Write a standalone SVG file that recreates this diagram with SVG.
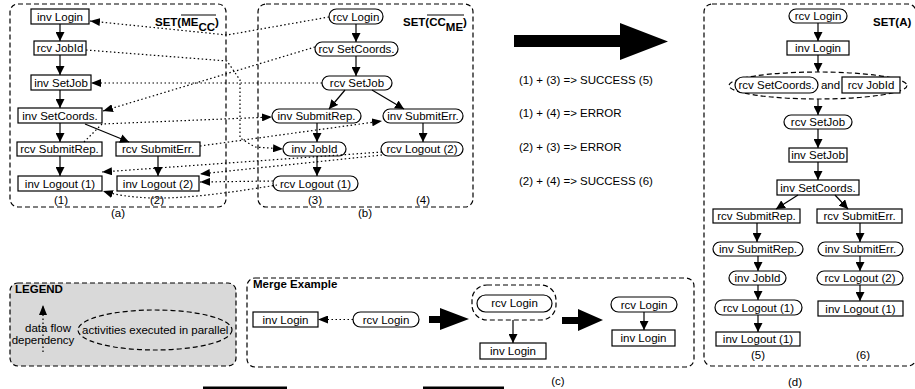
<svg xmlns="http://www.w3.org/2000/svg" width="915" height="389" viewBox="0 0 915 389">
<style>
.t{font-family:"Liberation Sans",Arial,sans-serif;font-size:11.5px;text-anchor:middle;fill:#000}
.ts{font-family:"Liberation Sans",Arial,sans-serif;font-size:11.5px;fill:#000}
.bt{font-family:"Liberation Sans",Arial,sans-serif;font-size:11.5px;font-weight:bold;fill:#000}
.box{fill:#fff;stroke:#000;stroke-width:1.2}
.grp{fill:none;stroke:#000;stroke-width:1.2;stroke-dasharray:5,3}
.sol{fill:none;stroke:#000;stroke-width:1.2;marker-end:url(#ah)}
.dot{fill:none;stroke:#000;stroke-width:1.2;stroke-dasharray:1.5,2.5;marker-end:url(#dh)}
.big{fill:#000}
</style>
<defs>
<marker id="ah" viewBox="0 0 10 10" refX="10" refY="5" markerWidth="9" markerHeight="9" markerUnits="userSpaceOnUse" orient="auto" preserveAspectRatio="none"><path d="M0,0 L10,5 L0,10 z" fill="#000"/></marker>
<marker id="dh" viewBox="0 0 10 10" refX="10" refY="5" markerWidth="10" markerHeight="8" markerUnits="userSpaceOnUse" orient="auto" preserveAspectRatio="none"><path d="M0,0 L10,5 L0,10 z" fill="#000"/></marker>
</defs>

<!-- containers -->
<g id="set-a">
<rect class="grp" x="10" y="4" width="216" height="203" rx="8"/>
<text class="bt" x="155" y="26">SET(ME<tspan dy="5">CC</tspan><tspan dy="-5">)</tspan></text>
<line x1="181" y1="15" x2="216" y2="15" stroke="#000" stroke-width="1.2"/>
<text class="t" x="61" y="204">(1)</text>
<text class="t" x="157" y="204">(2)</text>
<text class="t" x="118" y="217">(a)</text>
</g>
<g id="set-b">
<rect class="grp" x="258" y="4" width="215" height="203" rx="8"/>
<text class="bt" x="403" y="26">SET(CC<tspan dy="5">ME</tspan><tspan dy="-5">)</tspan></text>
<line x1="427" y1="15" x2="464" y2="15" stroke="#000" stroke-width="1.2"/>
<text class="t" x="315" y="204">(3)</text>
<text class="t" x="423" y="204">(4)</text>
<text class="t" x="365" y="217">(b)</text>
</g>
<g id="set-d">
<rect class="grp" x="704" y="4" width="212" height="362" rx="8"/>
<text class="bt" x="873" y="26">SET(A)</text>
<text class="t" x="758" y="359">(5)</text>
<text class="t" x="863" y="359">(6)</text>
<text class="t" x="795" y="386">(d)</text>
</g>

<!-- nodes (a) -->
<g id="a-inv-login"><rect class="box" x="31" y="9" width="58" height="15"/><text class="t" x="60" y="20.5">inv Login</text></g>
<g id="a-rcv-jobid"><rect class="box" x="34" y="41" width="52" height="14"/><text class="t" x="60" y="52">rcv JobId</text></g>
<g id="a-inv-setjob"><rect class="box" x="31" y="75" width="60" height="15"/><text class="t" x="61" y="86.5">inv SetJob</text></g>
<g id="a-inv-setcoords"><rect class="box" x="18" y="108" width="84" height="15"/><text class="t" x="60" y="119.5">inv SetCoords.</text></g>
<g id="a-rcv-submitrep"><rect class="box" x="17" y="142" width="85" height="14"/><text class="t" x="59.5" y="153">rcv SubmitRep.</text></g>
<g id="a-rcv-submiterr"><rect class="box" x="116" y="142" width="84" height="14"/><text class="t" x="158" y="153">rcv SubmitErr.</text></g>
<g id="a-inv-logout1"><rect class="box" x="18" y="176" width="84" height="15"/><text class="t" x="60" y="187.5">inv Logout (1)</text></g>
<g id="a-inv-logout2"><rect class="box" x="117" y="176" width="82" height="15"/><text class="t" x="158" y="187.5">inv Logout (2)</text></g>

<!-- nodes (b) -->
<g id="b-rcv-login"><rect class="box" x="329" y="9" width="54" height="15" rx="7.5"/><text class="t" x="356" y="20.5">rcv Login</text></g>
<g id="b-rcv-setcoords"><rect class="box" x="315" y="42" width="83" height="14" rx="7"/><text class="t" x="356.5" y="53">rcv SetCoords.</text></g>
<g id="b-rcv-setjob"><rect class="box" x="322" y="76" width="70" height="14" rx="7"/><text class="t" x="357" y="87">rcv SetJob</text></g>
<g id="b-inv-submitrep"><rect class="box" x="272" y="109" width="89" height="14" rx="7"/><text class="t" x="316.5" y="120">inv SubmitRep.</text></g>
<g id="b-inv-submiterr"><rect class="box" x="383" y="109" width="80" height="14" rx="7"/><text class="t" x="423" y="120">inv SubmitErr.</text></g>
<g id="b-inv-jobid"><rect class="box" x="283" y="142" width="63" height="14" rx="7"/><text class="t" x="314.5" y="153">inv JobId</text></g>
<g id="b-rcv-logout2"><rect class="box" x="381" y="142" width="82" height="14" rx="7"/><text class="t" x="422" y="153">rcv Logout (2)</text></g>
<g id="b-rcv-logout1"><rect class="box" x="273" y="176" width="85" height="15" rx="7.5"/><text class="t" x="315.5" y="187.5">rcv Logout (1)</text></g>

<!-- results -->
<g id="results">
<polygon class="big" points="514,35 620,35 620,23 668,41.5 620,60 620,47 514,47"/>
<text class="ts" x="519" y="84">(1) + (3) =&gt; SUCCESS (5)</text>
<text class="ts" x="519" y="117">(1) + (4) =&gt; ERROR</text>
<text class="ts" x="519" y="151">(2) + (3) =&gt; ERROR</text>
<text class="ts" x="519" y="185">(2) + (4) =&gt; SUCCESS (6)</text>
</g>

<!-- nodes (d) -->
<g id="d-rcv-login"><rect class="box" x="789" y="9" width="58" height="14" rx="7"/><text class="t" x="818" y="20">rcv Login</text></g>
<g id="d-inv-login"><rect class="box" x="787" y="41" width="62" height="14"/><text class="t" x="818" y="52">inv Login</text></g>
<g id="d-parallel">
<ellipse class="grp" cx="818" cy="85.5" rx="89" ry="13.5"/>
<rect class="box" x="735" y="77" width="83" height="16" rx="8"/><text class="t" x="776.5" y="89">rcv SetCoords.</text>
<text class="t" x="830.5" y="89">and</text>
<rect class="box" x="842" y="77" width="58" height="16"/><text class="t" x="871" y="89">rcv JobId</text>
</g>
<g id="d-rcv-setjob"><rect class="box" x="784" y="115" width="68" height="14" rx="7"/><text class="t" x="818" y="126">rcv SetJob</text></g>
<g id="d-inv-setjob"><rect class="box" x="789" y="148" width="58" height="14"/><text class="t" x="818" y="159">inv SetJob</text></g>
<g id="d-inv-setcoords"><rect class="box" x="777" y="180" width="82" height="15"/><text class="t" x="818" y="191.5">inv SetCoords.</text></g>
<g id="d-rcv-submitrep"><rect class="box" x="713" y="209" width="87" height="14"/><text class="t" x="756.5" y="220">rcv SubmitRep.</text></g>
<g id="d-rcv-submiterr"><rect class="box" x="817" y="209" width="85" height="14"/><text class="t" x="859.5" y="220">rcv SubmitErr.</text></g>
<g id="d-inv-submitrep"><rect class="box" x="713" y="242" width="90" height="14" rx="7"/><text class="t" x="758" y="253">inv SubmitRep.</text></g>
<g id="d-inv-submiterr"><rect class="box" x="818" y="242" width="85" height="14" rx="7"/><text class="t" x="860.5" y="253">inv SubmitErr.</text></g>
<g id="d-inv-jobid"><rect class="box" x="729" y="271" width="57" height="14" rx="7"/><text class="t" x="757.5" y="282">inv JobId</text></g>
<g id="d-rcv-logout2"><rect class="box" x="817" y="271" width="86" height="14" rx="7"/><text class="t" x="860" y="282">rcv Logout (2)</text></g>
<g id="d-rcv-logout1"><rect class="box" x="715" y="300" width="87" height="15" rx="7.5"/><text class="t" x="758.5" y="311.5">rcv Logout (1)</text></g>
<g id="d-inv-logout1-r"><rect class="box" x="818" y="301" width="85" height="15"/><text class="t" x="860.5" y="312.5">inv Logout (1)</text></g>
<g id="d-inv-logout1-l"><rect class="box" x="716" y="332" width="84" height="14"/><text class="t" x="758" y="343">inv Logout (1)</text></g>

<!-- legend -->
<g id="legend">
<rect class="grp" x="10" y="283" width="226" height="83" rx="8" fill="#d9d9d9" style="fill:#d9d9d9"/>
<text class="bt" x="15" y="293">LEGEND</text>
<line class="dot" x1="43" y1="352" x2="43" y2="305"/>
<text class="t" x="48" y="332">data flow</text>
<text class="t" x="43" y="344">dependency</text>
<ellipse class="grp" cx="155" cy="330" rx="77" ry="20"/>
<text class="ts" x="82" y="334">activities executed in parallel</text>
</g>

<!-- merge example -->
<g id="merge">
<rect class="grp" x="247" y="278" width="447" height="89" rx="8"/>
<text class="bt" x="253" y="288">Merge Example</text>
<text class="t" x="558" y="385">(c)</text>
<polygon class="big" points="429,316 440,316 440,308 469,319 440,330 440,323 429,323"/>
<rect class="grp" x="472" y="285" width="84" height="35" rx="15"/>
<polygon class="big" points="562,317 578,317 578,309 603,320 578,331 578,324 562,324"/>
</g>
<g id="m-inv-login1"><rect class="box" x="253" y="312" width="65" height="15"/><text class="t" x="285.5" y="323.5">inv Login</text></g>
<g id="m-rcv-login1"><rect class="box" x="353" y="312" width="66" height="15" rx="7.5"/><text class="t" x="386" y="323.5">rcv Login</text></g>
<g id="m-rcv-login2"><rect class="box" x="477" y="295" width="75" height="17" rx="8.5"/><text class="t" x="514.5" y="307">rcv Login</text></g>
<g id="m-inv-login2"><rect class="box" x="480" y="343" width="66" height="16"/><text class="t" x="513" y="355">inv Login</text></g>
<g id="m-rcv-login3"><rect class="box" x="611" y="297" width="66" height="15" rx="7.5"/><text class="t" x="644" y="308.5">rcv Login</text></g>
<g id="m-inv-login3"><rect class="box" x="612" y="330" width="63" height="16"/><text class="t" x="643.5" y="342">inv Login</text></g>

<rect x="203" y="386.5" width="84" height="2.5" fill="#000"/>
<rect x="423" y="386.5" width="81" height="2.5" fill="#000"/>

<!-- connectors -->
<g id="connectors">
<line class="sol" x1="60" y1="24" x2="60" y2="41"/>
<line class="sol" x1="60" y1="55" x2="60" y2="75"/>
<line class="sol" x1="60" y1="90" x2="60" y2="108"/>
<line class="sol" x1="60" y1="123" x2="60" y2="142"/>
<line class="sol" x1="60" y1="156" x2="60" y2="176"/>
<line class="sol" x1="158" y1="156" x2="158" y2="176"/>
<line class="sol" x1="85" y1="124" x2="129" y2="142"/>

<line class="sol" x1="356" y1="24" x2="356" y2="42"/>
<line class="sol" x1="356" y1="56" x2="356" y2="76"/>
<line class="sol" x1="345" y1="90" x2="329" y2="109"/>
<line class="sol" x1="372" y1="90" x2="404" y2="109"/>
<line class="sol" x1="317" y1="123" x2="317" y2="142"/>
<line class="sol" x1="423" y1="123" x2="423" y2="142"/>
<line class="sol" x1="317" y1="156" x2="317" y2="176"/>

<path class="dot" d="M329,17 L227,35 L90,21"/>
<path class="dot" d="M86,50 L227,61 L240,80 L240,138 L255,147 L283,149"/>
<path class="dot" d="M315,47 L103,111"/>
<path class="dot" d="M322,83 L91,83"/>
<path class="dot" d="M84,142 L102,124 L272,117"/>
<path class="dot" d="M200,146 L382,121"/>
<path class="dot" d="M382,152 L102,172"/>
<path class="dot" d="M382,155 L200,174"/>
<path class="dot" d="M273,181 L200,182"/>
<path class="dot" d="M277,185 C240,191 190,199 150,198 C130,197 115,195 103,191"/>

<line class="sol" x1="818" y1="23" x2="818" y2="41"/>
<line class="sol" x1="818" y1="55" x2="818" y2="72"/>
<line class="sol" x1="818" y1="99" x2="818" y2="115"/>
<line class="sol" x1="818" y1="129" x2="818" y2="148"/>
<line class="sol" x1="818" y1="162" x2="818" y2="180"/>
<line class="sol" x1="798" y1="195" x2="776" y2="209"/>
<line class="sol" x1="835" y1="195" x2="848" y2="209"/>
<line class="sol" x1="757" y1="223" x2="757" y2="242"/>
<line class="sol" x1="758" y1="256" x2="758" y2="271"/>
<line class="sol" x1="758" y1="285" x2="758" y2="300"/>
<line class="sol" x1="758" y1="315" x2="758" y2="332"/>
<line class="sol" x1="860" y1="223" x2="860" y2="242"/>
<line class="sol" x1="860" y1="256" x2="860" y2="271"/>
<line class="sol" x1="860" y1="285" x2="860" y2="301"/>

<line class="dot" x1="353" y1="319.5" x2="318" y2="319.5"/>
<line class="sol" x1="513" y1="320" x2="513" y2="343"/>
<line class="sol" x1="644" y1="312" x2="644" y2="330"/>
</g>
</svg>
